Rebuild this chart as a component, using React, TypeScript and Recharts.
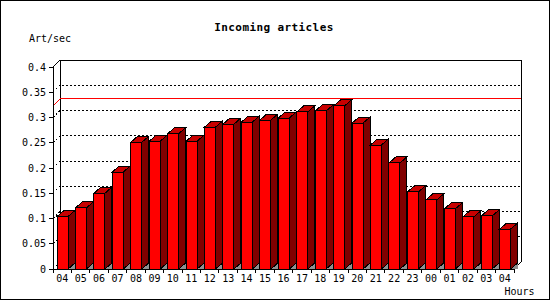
import React from 'react';
import { ComposedChart, Bar, XAxis, YAxis, ReferenceArea, Customized } from 'recharts';

const hours = ['04', '05', '06', '07', '08', '09', '10', '11', '12', '13', '14', '15', '16', '17', '18', '19', '20', '21', '22', '23', '00', '01', '02', '03', '04'];
const artPerSec = [0.104, 0.121, 0.15, 0.192, 0.251, 0.253, 0.268, 0.253, 0.281, 0.287, 0.291, 0.295, 0.299, 0.311, 0.313, 0.323, 0.289, 0.2455, 0.21, 0.1525, 0.137, 0.119, 0.103, 0.105, 0.079];
const yTicks = [0, 0.05, 0.1, 0.15, 0.2, 0.25, 0.3, 0.35, 0.4];
const gridValues = [0.05, 0.1, 0.15, 0.2, 0.25, 0.3, 0.35];
const titleText = 'Incoming articles';
const yUnit = 'Art/sec';
const xUnit = 'Hours';

const maxValue = Math.max(...artPerSec);
const data = hours.map((h, i) => ({ key: i, hour: h, value: artPerSec[i] }));

const DX = 7;
const DY = 7;
const BDX = 7;
const BDY = 6;
const FONT = '"DejaVu Sans Mono", "Liberation Mono", monospace';

function Bar3D(props: any) {
  const { x, y, width, height } = props;
  if (x == null || y == null || !width || height == null) return null;
  const xr = x + width;
  const yb = y + height;
  return (
    <g shapeRendering="crispEdges">
      <polygon points={`${xr},${yb} ${xr + BDX},${yb - BDY} ${xr + BDX},${yb}`} fill="#909090" />
      <polygon
        points={`${x},${y} ${x + BDX},${y - BDY} ${xr + BDX},${y - BDY} ${xr},${y}`}
        fill="#c80000"
        stroke="#000"
        strokeWidth={1}
      />
      <polygon
        points={`${xr},${y} ${xr + BDX},${y - BDY} ${xr + BDX},${yb - BDY} ${xr},${yb}`}
        fill="#800000"
        stroke="#000"
        strokeWidth={1}
      />
      <rect x={x} y={y} width={width} height={height} fill="#ff0000" stroke="#000" strokeWidth={1} />
    </g>
  );
}

function WallShape(props: any) {
  const { x, y, width, height } = props;
  if (x == null) return null;
  const bx = x + DX;
  const by = y - DY;
  const bb = y + height - DY;
  return (
    <g shapeRendering="crispEdges" fill="none" stroke="#000" strokeWidth={1}>
      <rect x={bx} y={by} width={width} height={height} fill="#fff" stroke="none" />
      <line x1={bx} y1={by} x2={bx} y2={bb} />
      <line x1={bx} y1={by} x2={bx + width} y2={by} />
      <line x1={bx + width} y1={by} x2={bx + width} y2={bb} />
      <line x1={x + width} y1={y + height} x2={bx + width} y2={bb} />
      <line x1={x} y1={y} x2={bx} y2={by} />
      <line x1={x} y1={y + height} x2={bx} y2={bb} strokeDasharray="2 2" />
    </g>
  );
}

function GridShape(props: any) {
  const { x, y, width } = props;
  if (x == null) return null;
  return (
    <g shapeRendering="crispEdges" fill="none" stroke="#000" strokeWidth={1} strokeDasharray="2 2">
      <polyline points={`${x},${y} ${x + DX},${y - DY} ${x + DX + width},${y - DY}`} />
    </g>
  );
}

function MaxShape(props: any) {
  const { x, y, width } = props;
  if (x == null) return null;
  return (
    <g shapeRendering="crispEdges" fill="none" stroke="#ff0000" strokeWidth={1}>
      <polyline points={`${x},${y} ${x + DX},${y - DY} ${x + DX + width},${y - DY}`} />
    </g>
  );
}

function HourTick(props: any) {
  const { x, y, payload, index, visibleTicksCount, width } = props;
  const band = width && visibleTicksCount ? width / visibleTicksCount : 0;
  const axisY = y - 6;
  const left = x - band / 2;
  return (
    <g>
      <line x1={left} y1={axisY} x2={left} y2={axisY + 4} stroke="#000" shapeRendering="crispEdges" />
      {index === visibleTicksCount - 1 ? (
        <line x1={left + band} y1={axisY} x2={left + band} y2={axisY + 4} stroke="#000" shapeRendering="crispEdges" />
      ) : null}
      <text x={x} y={y} dy="0.71em" textAnchor="middle" fontFamily={FONT} fontSize={10} fill="#000">
        {payload.value}
      </text>
    </g>
  );
}

function Texts() {
  return (
    <g>
      <rect x={0.5} y={0.5} width={549} height={299} fill="none" stroke="#000" shapeRendering="crispEdges" />
      <text x={274} y={30.5} textAnchor="middle" fontFamily={FONT} fontSize={11} fontWeight="bold" letterSpacing={0.4} fill="#000">
        {titleText}
      </text>
      <text x={29} y={41.5} fontFamily={FONT} fontSize={10} fill="#000">
        {yUnit}
      </text>
      <text x={504.5} y={295} fontFamily={FONT} fontSize={10} fill="#000">
        {xUnit}
      </text>
    </g>
  );
}

export default function App() {
  return (
    <div style={{ position: 'absolute', left: 0, top: 0, width: 550, height: 300, background: '#fff' }}>
      <ComposedChart width={550} height={300} data={data} margin={{ top: 67, right: 36, bottom: 11, left: 13 }}>
        <ReferenceArea y1={0} y2={0.4} shape={WallShape} ifOverflow="visible" />
        {gridValues.map((v) => (
          <ReferenceArea key={v} y1={0} y2={v} shape={GridShape} ifOverflow="visible" />
        ))}
        <ReferenceArea y1={0} y2={maxValue} shape={MaxShape} ifOverflow="visible" />
        <XAxis
          dataKey="key"
          type="category"
          tickFormatter={(i: number) => hours[i]}
          tick={(p: any) => <HourTick {...p} payload={{ ...p.payload, value: hours[p.payload.value] }} />}
          interval={0}
          tickLine={false}
          tickSize={4}
          tickMargin={2}
          height={20}
          axisLine={{ stroke: '#000', shapeRendering: 'crispEdges' }}
        />
        <YAxis
          domain={[0, 0.4]}
          ticks={yTicks}
          width={40}
          tickSize={4}
          tickMargin={3}
          interval={0}
          axisLine={{ stroke: '#000', shapeRendering: 'crispEdges' }}
          tickLine={{ stroke: '#000', shapeRendering: 'crispEdges' }}
          tick={{ fill: '#000', fontFamily: FONT, fontSize: 10 }}
        />
        <Bar dataKey="value" barSize={11} shape={Bar3D} isAnimationActive={false} />
        <Customized component={Texts} />
      </ComposedChart>
    </div>
  );
}
